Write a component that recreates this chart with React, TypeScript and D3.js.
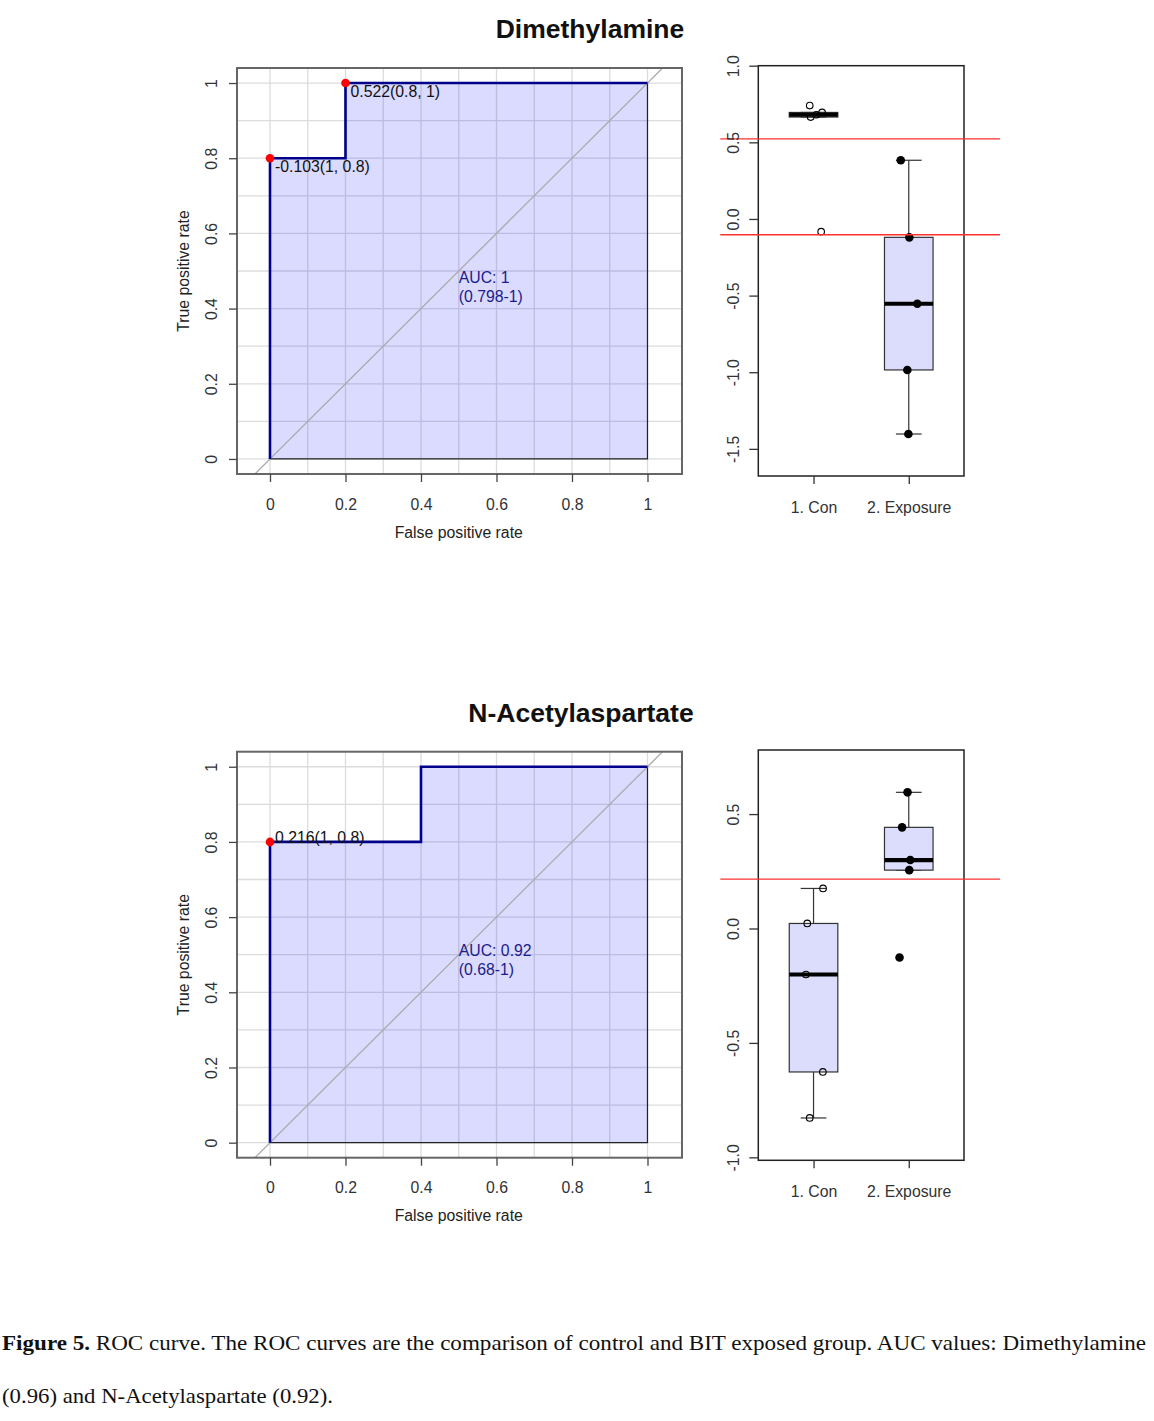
import React, { useEffect, useRef } from "react";
import * as d3 from "d3";

const titles = ["Dimethylamine", "N-Acetylaspartate"];
const groups = ["1. Con", "2. Exposure"];

// ROC steps: false positive rate / true positive rate
const dmaFpr = [0, 0, 0.2, 0.2, 1];
const dmaTpr = [0, 0.8, 0.8, 1, 1];
const naaFpr = [0, 0, 0.4, 0.4, 1];
const naaTpr = [0, 0.8, 0.8, 1, 1];

// best thresholds printed on the curves
const dmaThrFpr = [0, 0.2];
const dmaThrTpr = [0.8, 1];
const dmaThrLabels = ["-0.103(1, 0.8)", "0.522(0.8, 1)"];
const dmaThrValues = [0.522, -0.103];
const naaThrFpr = [0];
const naaThrTpr = [0.8];
const naaThrLabels = ["0.216(1, 0.8)"];
const naaThrValues = [0.216];

const dmaAuc = ["AUC: 1", "(0.798-1)"];
const naaAuc = ["AUC: 0.92", "(0.68-1)"];

// group values and stripchart jitter (in group units)
const dmaCon = [0.74, 0.695, 0.68, 0.665, -0.083];
const dmaConJitter = [-0.04, 0.09, 0.03, -0.03, 0.08];
const dmaExp = [0.383, -0.12, -0.553, -0.985, -1.403];
const dmaExpJitter = [-0.084, 0.006, 0.09, -0.015, -0.004];
const naaCon = [0.175, 0.022, -0.201, -0.627, -0.828];
const naaConJitter = [0.1, -0.066, -0.08, 0.098, -0.04];
const naaExp = [0.595, 0.442, 0.299, 0.255, -0.127];
const naaExpJitter = [-0.013, -0.07, 0.016, 0.005, -0.097];

const rocTicks = [0, 0.2, 0.4, 0.6, 0.8, 1];
const dmaBoxTicks = [-1.5, -1, -0.5, 0, 0.5, 1];
const naaBoxTicks = [-1, -0.5, 0, 0.5];

const panels = [
  {
    title: titles[0], fpr: dmaFpr, tpr: dmaTpr,
    thrFpr: dmaThrFpr, thrTpr: dmaThrTpr, thrLabels: dmaThrLabels, thrValues: dmaThrValues,
    auc: dmaAuc, con: dmaCon, conJit: dmaConJitter, exp: dmaExp, expJit: dmaExpJitter,
    boxDomain: [-1.677, 1.0], boxTicks: dmaBoxTicks,
  },
  {
    title: titles[1], fpr: naaFpr, tpr: naaTpr,
    thrFpr: naaThrFpr, thrTpr: naaThrTpr, thrLabels: naaThrLabels, thrValues: naaThrValues,
    auc: naaAuc, con: naaCon, conJit: naaConJitter, exp: naaExp, expJit: naaExpJitter,
    boxDomain: [-1.013, 0.78], boxTicks: naaBoxTicks,
  },
];

const layout = [
  { key: "a", rocTop: 68, boxTop: 65.7, titleX: 590, titleY: 29, labelDy: 8, aucDy: 6 },
  { key: "b", rocTop: 751.7, boxTop: 750, titleX: 581, titleY: 713, labelDy: -4, aucDy: -4 },
];

const FONT = "'Liberation Sans', Arial, sans-serif";
const FS = 15.8;
const LAVENDER = "#dcdcfc";

// R's fivenum (Tukey hinges)
function fivenum(v: number[]) {
  const s = [...v].sort(d3.ascending);
  const n = s.length;
  const n4 = Math.floor((n + 3) / 2) / 2;
  const idx = [1, n4, (n + 1) / 2, n + 1 - n4, n];
  return idx.map((i) => 0.5 * (s[Math.floor(i) - 1] + s[Math.ceil(i) - 1]));
}

function drawRoc(svg: any, p: any, L: any) {
  const W = 445, H = 406, left = 237, top = L.rocTop;
  const x = d3.scaleLinear().domain([-0.0874, 1.0914]).range([0, W]);
  const y = d3.scaleLinear().domain([-0.04, 1.04]).range([H, 0]);
  const g = svg.append("g").attr("transform", `translate(${left},${top})`);
  const clipId = "clip-roc-" + L.key;
  g.append("clipPath").attr("id", clipId).append("rect").attr("width", W).attr("height", H);

  const grid = d3.range(0, 11).map((i) => i / 10);
  g.append("g").selectAll("line").data(grid).join("line")
    .attr("x1", (d) => x(d)).attr("x2", (d) => x(d)).attr("y1", 0).attr("y2", H)
    .attr("stroke", "#dcdcdc").attr("stroke-width", 1.3);
  g.append("g").selectAll("line").data(grid).join("line")
    .attr("y1", (d) => y(d)).attr("y2", (d) => y(d)).attr("x1", 0).attr("x2", W)
    .attr("stroke", "#dcdcdc").attr("stroke-width", 1.3);

  const pts: [number, number][] = p.fpr.map((f: number, i: number) => [f, p.tpr[i]]);
  const line = d3.line<[number, number]>().x((d) => x(d[0])).y((d) => y(d[1]));
  g.append("path")
    .attr("d", line([...pts, [1, 0], [0, 0]]) + "Z")
    .attr("fill", "rgb(0,0,255)").attr("fill-opacity", 0.14)
    .attr("stroke", "#222").attr("stroke-width", 1.2);

  g.append("line")
    .attr("x1", x(-0.2)).attr("y1", y(-0.2)).attr("x2", x(1.2)).attr("y2", y(1.2))
    .attr("clip-path", `url(#${clipId})`)
    .attr("stroke", "#aaaaaa").attr("stroke-width", 1.3);

  g.append("path").attr("d", line(pts)).attr("fill", "none")
    .attr("stroke", "#00008b").attr("stroke-width", 2.6);

  p.thrFpr.forEach((f: number, i: number) => {
    g.append("circle").attr("cx", x(f)).attr("cy", y(p.thrTpr[i])).attr("r", 4.3).attr("fill", "#ff0000");
    g.append("text").attr("x", x(f) + 5).attr("y", y(p.thrTpr[i]) + L.labelDy).attr("dy", "0.35em")
      .attr("font-family", FONT).attr("font-size", FS).attr("fill", "#111").text(p.thrLabels[i]);
  });

  p.auc.forEach((t: string, i: number) => {
    g.append("text").attr("x", x(0.5)).attr("y", y(0.5) + L.aucDy + i * 19).attr("dy", "0.35em")
      .attr("font-family", FONT).attr("font-size", FS).attr("fill", "#1c1c8c").text(t);
  });

  g.append("rect").attr("width", W).attr("height", H).attr("fill", "none")
    .attr("stroke", "#666").attr("stroke-width", 2);

  const ax = g.append("g").attr("transform", `translate(0,${H})`)
    .call(d3.axisBottom(x).tickValues(rocTicks).tickSize(8).tickFormat((d: any) => String(d)));
  ax.select(".domain").remove();
  ax.attr("font-family", FONT).attr("font-size", FS);
  ax.selectAll("line").attr("stroke", "#444").attr("stroke-width", 1.3);
  ax.selectAll("text").attr("y", 30).attr("dy", "0.35em").attr("fill", "#333");

  const ay = g.append("g")
    .call(d3.axisLeft(y).tickValues(rocTicks).tickSize(8).tickFormat((d: any) => String(d)));
  ay.select(".domain").remove();
  ay.attr("font-family", FONT).attr("font-size", FS);
  ay.selectAll("line").attr("stroke", "#444").attr("stroke-width", 1.3);
  ay.selectAll("text").attr("x", 0).attr("dy", "0.35em").attr("text-anchor", "middle")
    .attr("transform", "translate(-26,0) rotate(-90)").attr("fill", "#333");

  g.append("text").attr("x", x(0.5)).attr("y", H + 58).attr("dy", "0.35em").attr("text-anchor", "middle")
    .attr("font-family", FONT).attr("font-size", FS).attr("fill", "#222").text("False positive rate");
  g.append("text").attr("transform", `translate(-54,${y(0.5)}) rotate(-90)`).attr("dy", "0.35em")
    .attr("text-anchor", "middle").attr("font-family", FONT).attr("font-size", FS).attr("fill", "#222")
    .text("True positive rate");
}

function drawBox(svg: any, p: any, L: any) {
  const W = 205.7, H = 410.3, left = 758.3, top = L.boxTop;
  const x = d3.scaleLinear().domain([0.42, 2.58]).range([0, W]);
  const y = d3.scaleLinear().domain(p.boxDomain).range([H, 0]);
  const g = svg.append("g").attr("transform", `translate(${left},${top})`);
  const sets = [
    { vals: p.con, jit: p.conJit, open: true },
    { vals: p.exp, jit: p.expJit, open: false },
  ];
  const halfBox = 0.255, halfCap = 0.135;

  sets.forEach((s, gi) => {
    const c = gi + 1;
    const [, q1, med, q3] = fivenum(s.vals);
    const iqr = q3 - q1;
    const hi = d3.max(s.vals.filter((v: number) => v <= q3 + 1.5 * iqr)) as number;
    const lo = d3.min(s.vals.filter((v: number) => v >= q1 - 1.5 * iqr)) as number;
    const st = "#333";
    g.append("line").attr("x1", x(c)).attr("x2", x(c)).attr("y1", y(hi)).attr("y2", y(q3)).attr("stroke", st).attr("stroke-width", 1.2);
    g.append("line").attr("x1", x(c)).attr("x2", x(c)).attr("y1", y(lo)).attr("y2", y(q1)).attr("stroke", st).attr("stroke-width", 1.2);
    [hi, lo].forEach((v) =>
      g.append("line").attr("x1", x(c - halfCap)).attr("x2", x(c + halfCap)).attr("y1", y(v)).attr("y2", y(v))
        .attr("stroke", st).attr("stroke-width", 1.2));
    g.append("rect").attr("x", x(c - halfBox)).attr("width", x(c + halfBox) - x(c - halfBox))
      .attr("y", y(q3)).attr("height", Math.max(0, y(q1) - y(q3)))
      .attr("fill", LAVENDER).attr("stroke", st).attr("stroke-width", 1.2);
    g.append("line").attr("x1", x(c - halfBox)).attr("x2", x(c + halfBox)).attr("y1", y(med)).attr("y2", y(med))
      .attr("stroke", "#000").attr("stroke-width", 4.2);
    g.append("g").selectAll("circle").data(s.vals).join("circle")
      .attr("cx", (d: number, i: number) => x(c + s.jit[i])).attr("cy", (d: number) => y(d))
      .attr("r", s.open ? 3.3 : 4.3)
      .attr("fill", s.open ? "none" : "#000").attr("stroke", "#000").attr("stroke-width", s.open ? 1.1 : 0);
  });

  g.append("rect").attr("width", W).attr("height", H).attr("fill", "none")
    .attr("stroke", "#222").attr("stroke-width", 1.5);

  // optimal cut-offs from the ROC curve
  g.append("g").selectAll("line").data(p.thrValues).join("line")
    .attr("x1", -38).attr("x2", W + 36).attr("y1", (d: number) => y(d)).attr("y2", (d: number) => y(d))
    .attr("stroke", "#ff3030").attr("stroke-width", 1.3);

  const ay = g.append("g")
    .call(d3.axisLeft(y).tickValues(p.boxTicks).tickSize(9).tickFormat((d: any) => (+d).toFixed(1)));
  ay.select(".domain").remove();
  ay.attr("font-family", FONT).attr("font-size", FS);
  ay.selectAll("line").attr("stroke", "#333").attr("stroke-width", 1.3);
  ay.selectAll("text").attr("x", 0).attr("dy", "0.35em").attr("text-anchor", "middle")
    .attr("transform", "translate(-25,0) rotate(-90)").attr("fill", "#333");

  const ax = g.append("g").attr("transform", `translate(0,${H})`)
    .call(d3.axisBottom(x).tickValues([1, 2]).tickSize(8).tickFormat((d: any) => groups[+d - 1]));
  ax.select(".domain").remove();
  ax.attr("font-family", FONT).attr("font-size", FS);
  ax.selectAll("line").attr("stroke", "#333").attr("stroke-width", 1.3);
  ax.selectAll("text").attr("y", 31).attr("dy", "0.35em").attr("fill", "#333");
}

function App() {
  const svgRef = useRef(null);
  useEffect(() => {
    const svg = d3.select(svgRef.current);
    svg.selectAll("*").remove();
    svg.append("rect").attr("width", 1154).attr("height", 1421).attr("fill", "#fff");

    panels.forEach((p, i) => {
      const L = layout[i];
      svg.append("text").attr("x", L.titleX).attr("y", L.titleY).attr("dy", "0.35em")
        .attr("text-anchor", "middle").attr("font-family", FONT).attr("font-weight", "bold")
        .attr("font-size", 26.5).attr("fill", "#111").text(p.title);
      drawRoc(svg, p, L);
      drawBox(svg, p, L);
    });

    const cap = svg.append("g").attr("font-family", "'Liberation Serif', 'Times New Roman', serif")
      .attr("font-size", 22).attr("fill", "#111");
    const l1 = cap.append("text").attr("x", 2).attr("y", 1350)
      .attr("textLength", 1144).attr("lengthAdjust", "spacingAndGlyphs");
    l1.append("tspan").attr("font-weight", "bold").text("Figure 5.");
    l1.append("tspan").text(" ROC curve. The ROC curves are the comparison of control and BIT exposed group. AUC values: Dimethylamine");
    cap.append("text").attr("x", 2).attr("y", 1403)
      .attr("textLength", 331).attr("lengthAdjust", "spacingAndGlyphs")
      .text("(0.96) and N-Acetylaspartate (0.92).");
  }, []);

  return (
    <svg
      ref={svgRef}
      width={1154}
      height={1421}
      style={{ position: "absolute", left: 0, top: 0 }}
    />
  );
}

export default App;
